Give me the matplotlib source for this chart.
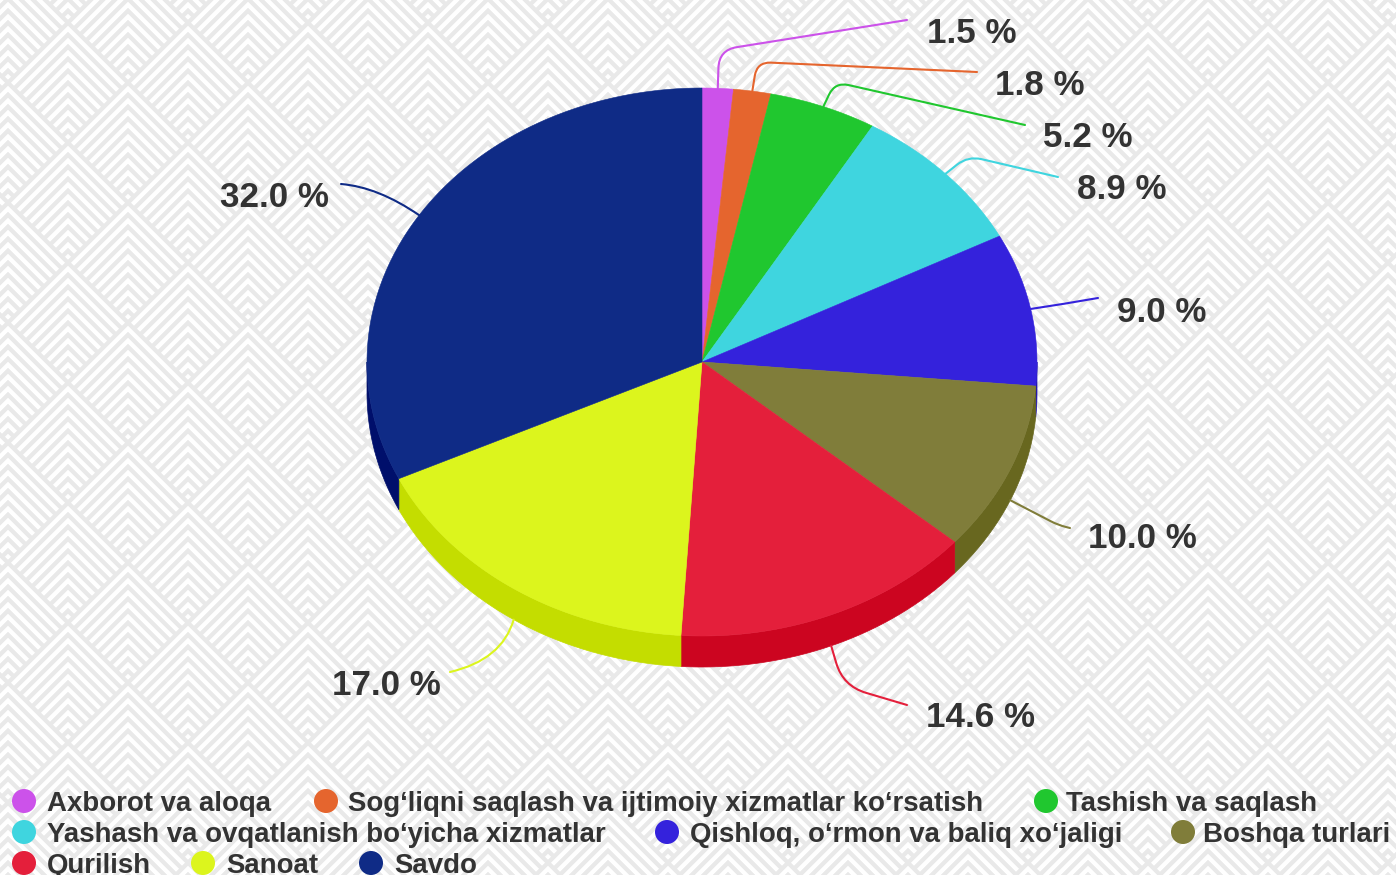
import numpy as np
import matplotlib
matplotlib.use("Agg")
import matplotlib.pyplot as plt
from matplotlib.patches import Polygon, Circle, PathPatch
from matplotlib.path import Path

# ---- data -------------------------------------------------------------
categories = [
    "Axborot va aloqa",
    "Sog\u2018liqni saqlash va ijtimoiy xizmatlar ko\u2018rsatish",
    "Tashish va saqlash",
    "Yashash va ovqatlanish bo\u2018yicha xizmatlar",
    "Qishloq, o\u2018rmon va baliq xo\u2018jaligi",
    "Boshqa turlari",
    "Qurilish",
    "Sanoat",
    "Savdo",
]
shares = [1.5, 1.8, 5.2, 8.9, 9.0, 10.0, 14.6, 17.0, 32.0]
top_colors = ["#cc52ea", "#e5652e", "#20c72f", "#3fd5df", "#3422dc",
              "#807d3a", "#e41f3b", "#dcf51d", "#0f2b86"]
side_colors = ["#a83cc4", "#c0501f", "#16a023", "#2fb0b8", "#2214b0",
               "#68671f", "#cc0520", "#c4dd00", "#000f6b"]

# ---- layout (pixel coordinates) ---------------------------------------
W, H = 1396, 875
cx, cy, rx, ry, depth = 702, 362, 335, 274, 31

# label anchor (left x, baseline y)
label_pos = [(927, 43), (995, 95), (1043, 147), (1077, 199), (1117, 322),
             (1088, 548), (926, 727), (332, 695), (220, 207)]
# leader: knee point, end point, corner radius (None = one smooth curve)
knees = [(719, 50), (757, 62), (835, 82), (968, 156), (1064, 304),
         (1058, 525), (843, 686), (502, 660), (378, 187)]
ends = [(907, 20), (977, 72), (1025, 125), (1058, 177), (1098, 298),
        (1070, 528), (907, 705), (450, 672), (341, 184)]
radii = [18, 14, 14, 14, None, 8, 24, None, None]

legend_rows = [
    [(24, 47, 0), (326, 348, 1), (1046, 1066, 2)],
    [(24, 47, 3), (667, 690, 4), (1183, 1203, 5)],
    [(24, 47, 6), (203, 226, 7), (371, 394, 8)],
]
legend_y = [801, 832, 863]

TEXT = "#333333"
FONT = "Liberation Sans"


def chevron_background(w, h, ss=2):
    """Nested-chevron diamond tiling, supersampled for soft edges."""
    ys, xs = np.mgrid[0:h * ss, 0:w * ss].astype(float)
    xs = (xs + 0.5) / ss
    ys = (ys + 0.5) / ss
    cell = 120.0
    a = np.mod((xs + ys) - 88.0, cell)        # distance from upper-left edge
    b = np.mod(48.0 - (xs - ys), cell)        # distance from upper-right edge
    level = np.minimum(a, b)
    period = 12.0
    stripe = np.mod(level, period) < 6.0
    img = np.where(stripe, 0.915, 1.0)
    img = img.reshape(h, ss, w, ss).mean(axis=(1, 3))
    return np.dstack([img, img, img])


def ellipse_pts(t0, t1, dy=0.0, n=None):
    if n is None:
        n = max(2, int(abs(t1 - t0) / np.radians(0.5)) + 2)
    t = np.linspace(t0, t1, n)
    return np.column_stack([cx + rx * np.sin(t), cy + dy - ry * np.cos(t)])


fig = plt.figure(figsize=(W / 100, H / 100), dpi=100)

bg = fig.add_axes([0, 0, 1, 1])
bg.imshow(chevron_background(W, H), extent=(0, W, H, 0), interpolation="bilinear")
bg.set_xlim(0, W)
bg.set_ylim(H, 0)
bg.axis("off")

ax = fig.add_axes([0, 0, 1, 1])
ax.set_xlim(0, W)
ax.set_ylim(H, 0)
ax.axis("off")
ax.patch.set_alpha(0)

fracs = np.array(shares) / np.sum(shares)
bounds = np.concatenate([[0], np.cumsum(fracs)]) * 2 * np.pi

# side walls (front half only)
for i in range(len(shares)):
    t0 = max(bounds[i], np.pi / 2)
    t1 = min(bounds[i + 1], 3 * np.pi / 2)
    if t1 <= t0:
        continue
    top = ellipse_pts(t0, t1)
    bot = ellipse_pts(t0, t1, dy=depth)[::-1]
    ax.add_patch(Polygon(np.vstack([top, bot]), closed=True,
                         facecolor=side_colors[i], edgecolor=side_colors[i],
                         linewidth=0.5, zorder=2))

# top face
for i in range(len(shares)):
    arc = ellipse_pts(bounds[i], bounds[i + 1])
    poly = np.vstack([[cx, cy], arc])
    ax.add_patch(Polygon(poly, closed=True, facecolor=top_colors[i],
                         edgecolor=top_colors[i], linewidth=0.4, zorder=3))

# leader lines and value labels
for i, v in enumerate(shares):
    tm = (bounds[i] + bounds[i + 1]) / 2
    dy = depth if np.cos(tm) < -0.2 else 0.0
    p0 = ellipse_pts(tm, tm, dy=dy, n=1)[0]
    k = np.array(knees[i], float)
    e = np.array(ends[i], float)
    if radii[i] is None:
        path = Path([p0, k, e], [Path.MOVETO, Path.CURVE3, Path.CURVE3])
    else:
        r = min(radii[i], 0.9 * np.linalg.norm(p0 - k), 0.9 * np.linalg.norm(e - k))
        a = k + (p0 - k) / np.linalg.norm(p0 - k) * r
        b = k + (e - k) / np.linalg.norm(e - k) * r
        path = Path([p0, a, k, b, e],
                    [Path.MOVETO, Path.LINETO, Path.CURVE3, Path.CURVE3, Path.LINETO])
    ax.add_patch(PathPatch(path, facecolor="none", edgecolor=top_colors[i],
                           linewidth=1.5, zorder=4, capstyle="round"))
    lx, ly = label_pos[i]
    ax.text(lx, ly, f"{v:.1f} %", fontsize=25.2, fontweight="bold",
            family=FONT, color=TEXT, ha="left", va="baseline", zorder=5)

# legend
for row, yc in zip(legend_rows, legend_y):
    for mx, tx, idx in row:
        ax.add_patch(Circle((mx, yc), 12, facecolor=top_colors[idx],
                            edgecolor="none", zorder=5))
        ax.text(tx, yc + 10, categories[idx], fontsize=19.9, fontweight="bold",
                family=FONT, color=TEXT, ha="left", va="baseline", zorder=5)

fig.savefig("out.png", dpi=100)
